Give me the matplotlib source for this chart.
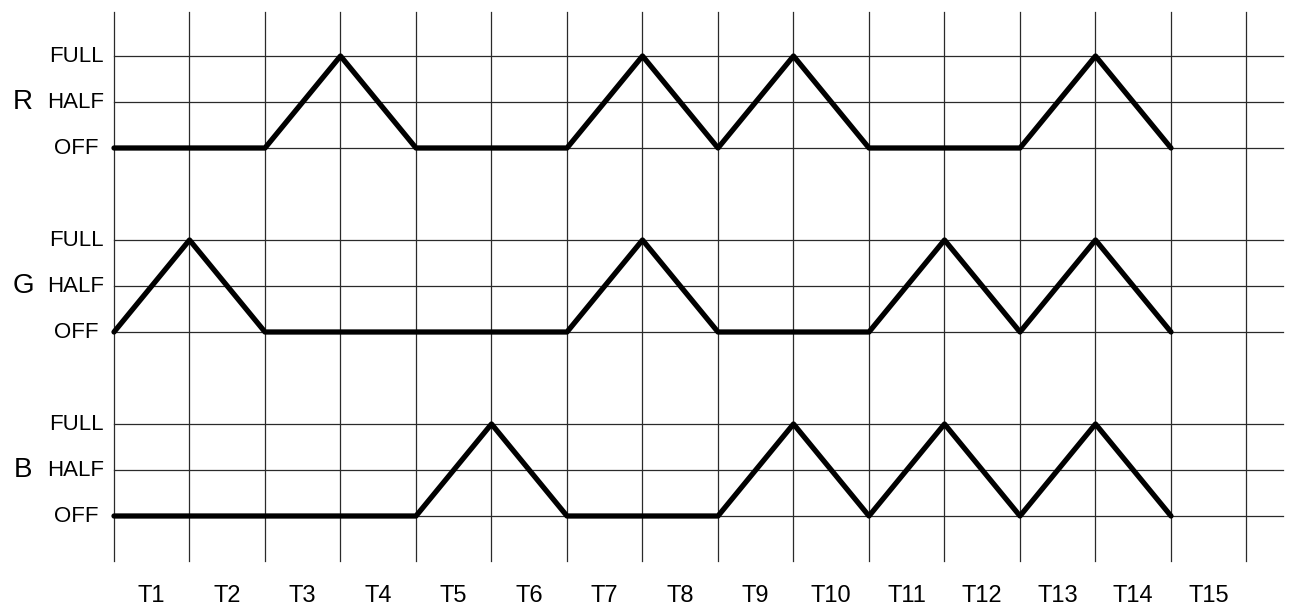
import matplotlib
matplotlib.use('Agg')
import matplotlib.pyplot as plt

# levels: 0 = OFF, 1 = HALF, 2 = FULL, one value per time boundary
channels = ['R', 'G', 'B']
r_levels = [0, 0, 0, 2, 0, 0, 0, 2, 0, 2, 0, 0, 0, 2, 0]
g_levels = [0, 2, 0, 0, 0, 0, 0, 2, 0, 0, 0, 2, 0, 2, 0]
b_levels = [0, 0, 0, 0, 0, 2, 0, 0, 0, 2, 0, 2, 0, 2, 0]
level_names = ['OFF', 'HALF', 'FULL']
time_labels = ['T{}'.format(i) for i in range(1, 16)]

plt.rcParams['font.family'] = ['Liberation Sans', 'DejaVu Sans']

fig = plt.figure(figsize=(12.89, 6.12), dpi=100)
ax = fig.add_axes([0, 0, 1, 1])
ax.set_xlim(-114 / 75.5, (1289 - 114) / 75.5)
ax.set_ylim((516 - 612) / 46, 516 / 46)
ax.axis('off')

n_lines = len(time_labels) + 1
grid_col = '#2a2a2a'

# vertical grid
for i in range(n_lines):
    ax.plot([i, i], [-0.97, 10.96], color=grid_col, lw=0.9, zorder=1)

offsets = [8, 4, 0]
series = [r_levels, g_levels, b_levels]
for name, base, levels in zip(channels, offsets, series):
    for lv, lname in enumerate(level_names):
        ax.plot([0, 15.48], [base + lv, base + lv], color=grid_col, lw=0.9, zorder=1)
        ax.text(-0.503, base + lv, lname, ha='center', va='center', fontsize=16)
    ax.text(-1.205, base + 1, name, ha='center', va='center', fontsize=20)
    xs = list(range(len(levels)))
    ys = [base + v for v in levels]
    ax.plot(xs, ys, color='black', lw=3.8, solid_joinstyle='round',
            solid_capstyle='round', zorder=3)

for i, lab in enumerate(time_labels):
    ax.text(i + 0.5, -1.74, lab, ha='center', va='center', fontsize=17)

fig.savefig('out.png', dpi=100)
